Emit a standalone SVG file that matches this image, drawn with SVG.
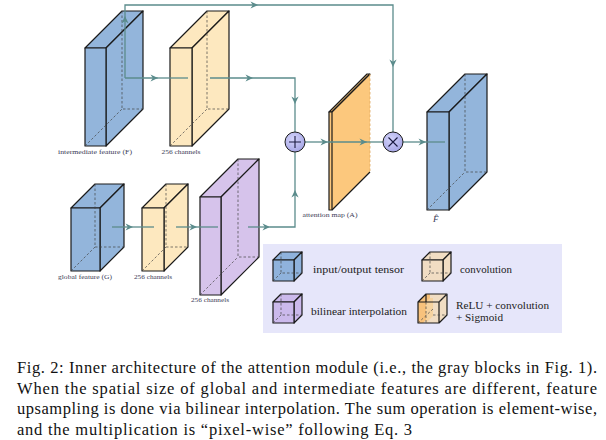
<svg xmlns="http://www.w3.org/2000/svg" width="606" height="440" viewBox="0 0 606 440">
<defs>
<style>
.edge{stroke:#1a1a1a;stroke-width:1.2;stroke-linejoin:round}
.hid{stroke:#444;stroke-width:0.7;stroke-dasharray:2.5,2;fill:none}
.blue{fill:#93b5db}
.yel{fill:#fde8bf}
.pur{fill:#d6c3eb}
.org{fill:#fcc87d}
.conn{stroke:#5b8c8c;stroke-width:1.3;fill:none}
.lbl{font-family:"Liberation Serif","Times New Roman",serif;font-size:7px;fill:#3a3a55;text-anchor:middle}
.leg{font-family:"Liberation Serif","Times New Roman",serif;font-size:11.2px;fill:#222}
.cap{font-family:"Liberation Serif","Times New Roman",serif;font-size:16.5px;fill:#111}
</style>
<marker id="ah" viewBox="-8 -4 9 8" refX="0" refY="0" markerWidth="9" markerHeight="8" markerUnits="userSpaceOnUse" orient="auto">
<path d="M0,0 L-7.5,-3.6 L-5.2,0 L-7.5,3.6 Z" fill="#5b8c8c"/>
</marker>
<radialGradient id="cg" cx="0.4" cy="0.35" r="0.7">
<stop offset="0" stop-color="#d4d4fb"/>
<stop offset="1" stop-color="#a4a4e4"/>
</radialGradient>
</defs>
<rect width="606" height="440" fill="#ffffff"/>

<g id="node-F">
<polygon class="blue edge" points="85,48 122,11 143,11 106,48"/>
<polygon class="blue edge" points="106,48 143,11 143,109 106,146"/>
<rect class="blue edge" x="85" y="48" width="21" height="98"/>
<path class="hid" d="M122,11 V109 H143 M85,146 L122,109"/>
<text class="lbl" x="95" y="154" textLength="74" lengthAdjust="spacingAndGlyphs">intermediate feature (F)</text>
</g>

<g id="node-conv1">
<polygon class="yel edge" points="170,48 207,11 229,11 192,48"/>
<polygon class="yel edge" points="192,48 229,11 229,109 192,146"/>
<rect class="yel edge" x="170" y="48" width="22" height="98"/>
<path class="hid" d="M207,11 V109 H229 M170,146 L207,109"/>
<text class="lbl" x="181" y="154" textLength="39" lengthAdjust="spacingAndGlyphs">256 channels</text>
</g>

<g id="node-G">
<polygon class="blue edge" points="71,208 95,184 124,184 100,208"/>
<polygon class="blue edge" points="100,208 124,184 124,247 100,271"/>
<rect class="blue edge" x="71" y="208" width="29" height="63"/>
<path class="hid" d="M95,184 V247 H124 M71,271 L95,247"/>
<text class="lbl" x="85" y="279" textLength="54" lengthAdjust="spacingAndGlyphs">global feature (G)</text>
</g>

<g id="node-conv2">
<polygon class="yel edge" points="142,208 166,184 188,184 164,208"/>
<polygon class="yel edge" points="164,208 188,184 188,247 164,271"/>
<rect class="yel edge" x="142" y="208" width="22" height="63"/>
<path class="hid" d="M166,184 V247 H188 M142,271 L166,247"/>
<text class="lbl" x="153" y="279" textLength="38" lengthAdjust="spacingAndGlyphs">256 channels</text>
</g>

<g id="node-interp">
<polygon class="pur edge" points="200,197 238,159 259,159 221,197"/>
<polygon class="pur edge" points="221,197 259,159 259,257 221,295"/>
<rect class="pur edge" x="200" y="197" width="21" height="98"/>
<path class="hid" d="M238,159 V257 H259 M200,295 L238,257"/>
<text class="lbl" x="210" y="302" textLength="38" lengthAdjust="spacingAndGlyphs">256 channels</text>
</g>

<g id="node-attn">
<polygon class="org edge" points="329,112 367,74 370,74 332,112"/>
<polygon class="org" points="332,112 370,74 370,172 332,210"/>
<path d="M332,112 L370,74 M370,172 L332,210" class="edge" fill="none"/>
<path d="M370,74 V172" stroke="#e0a860" stroke-width="0.8" stroke-dasharray="2.5,2" fill="none"/>
<rect class="org edge" x="329" y="112" width="3" height="98"/>
<text class="lbl" x="330" y="217" textLength="55" lengthAdjust="spacingAndGlyphs">attention map (A)</text>
</g>

<g id="node-out">
<polygon class="blue edge" points="427,112 465,74 487,74 449,112"/>
<polygon class="blue edge" points="449,112 487,74 487,172 449,210"/>
<rect class="blue edge" x="427" y="112" width="22" height="98"/>
<path class="hid" d="M465,74 V172 H487 M427,210 L465,172"/>
<text x="433" y="222" font-family="Liberation Serif, serif" font-style="italic" font-size="9" fill="#3a3a55">F̂</text>
</g>

<g id="connectors">
<path class="conn" d="M125,78 V16" marker-end="url(#ah)"/>
<path class="conn" d="M125,16 V5 H258" marker-end="url(#ah)"/>
<path class="conn" d="M258,5 H393 V67" marker-end="url(#ah)"/>
<path class="conn" d="M393,67 V132"/>
<path class="conn" d="M125,78 H158" marker-end="url(#ah)"/>
<path class="conn" d="M158,78 H188"/>
<path class="conn" d="M210,78 H253" marker-end="url(#ah)"/>
<path class="conn" d="M253,78 H295 V104" marker-end="url(#ah)"/>
<path class="conn" d="M295,104 V132"/>
<path class="conn" d="M112,227 H133" marker-end="url(#ah)"/>
<path class="conn" d="M133,227 H154"/>
<path class="conn" d="M176,227 H197" marker-end="url(#ah)"/>
<path class="conn" d="M197,227 H218"/>
<path class="conn" d="M248,227 H270" marker-end="url(#ah)"/>
<path class="conn" d="M270,227 H295 V190" marker-end="url(#ah)"/>
<path class="conn" d="M295,190 V152"/>
<path class="conn" d="M305,142 H328" marker-end="url(#ah)"/>
<path class="conn" d="M328,142 H367" marker-end="url(#ah)"/>
<path class="conn" d="M367,142 H383"/>
<path class="conn" d="M403,142 H426" marker-end="url(#ah)"/>
<path class="conn" d="M426,142 H445"/>
</g>

<g id="node-sum">
<circle cx="295" cy="142" r="10" fill="url(#cg)" stroke="#1a1a1a" stroke-width="1"/>
<path d="M289,142 H301 M295,136 V148" stroke="#1a1a40" stroke-width="1.1"/>
</g>
<g id="node-mul">
<circle cx="393" cy="142" r="10" fill="url(#cg)" stroke="#1a1a1a" stroke-width="1"/>
<path d="M388.5,137.5 L397.5,146.5 M397.5,137.5 L388.5,146.5" stroke="#1a1a40" stroke-width="1.1"/>
</g>

<g id="legend">
<rect x="263" y="244" width="299" height="89" fill="#e6e6fa"/>
<g id="leg-tensor">
<polygon class="edge" fill="#8fb2dc" points="273,260 281,252 302,252 294,260"/>
<polygon class="edge" fill="#8fb2dc" points="294,260 302,252 302,273 294,281"/>
<rect class="edge" fill="#8fb2dc" x="273" y="260" width="21" height="21"/>
<path class="hid" d="M281,252 V273 H302 M273,281 L281,273"/>
<text class="leg" x="313" y="273" textLength="91" lengthAdjust="spacingAndGlyphs">input/output tensor</text>
</g>
<g id="leg-conv">
<polygon class="edge" fill="#f1ddc3" points="422,260 430,252 451,252 443,260"/>
<polygon class="edge" fill="#f1ddc3" points="443,260 451,252 451,273 443,281"/>
<rect class="edge" fill="#f1ddc3" x="422" y="260" width="21" height="21"/>
<path class="hid" d="M430,252 V273 H451 M422,281 L430,273"/>
<text class="leg" x="460" y="273" textLength="52" lengthAdjust="spacingAndGlyphs">convolution</text>
</g>
<g id="leg-interp">
<polygon class="edge" fill="#cbb9ec" points="273,302 281,294 302,294 294,302"/>
<polygon class="edge" fill="#cbb9ec" points="294,302 302,294 302,315 294,323"/>
<rect class="edge" fill="#cbb9ec" x="273" y="302" width="21" height="21"/>
<path class="hid" d="M281,294 V315 H302 M273,323 L281,315"/>
<text class="leg" x="311" y="315" textLength="96" lengthAdjust="spacingAndGlyphs">bilinear interpolation</text>
</g>
<g id="leg-relu">
<polygon fill="#f1ddc3" points="418,302 426,294 447,294 447,315 439,323 418,323"/>
<polygon fill="#f8c27c" points="418,302 426,294 430,294 430,316 423,323 418,323"/>
<polygon fill="#f6d3a0" points="426,302 430,298 433,298 433,316 430,319 426,323"/>
<path class="edge" fill="none" d="M418,302 L426,294 H447 V315 L439,323 H418 Z M418,302 H439 V323 M439,302 L447,294 M426,294 V302"/>
<path class="hid" d="M426,302 V323 M439,302 L447,294 M433,315 H447 M418,323 L433,309"/>
<text class="leg" x="456" y="309" textLength="93" lengthAdjust="spacingAndGlyphs">ReLU + convolution</text>
<text class="leg" x="456" y="321" textLength="47" lengthAdjust="spacingAndGlyphs">+ Sigmoid</text>
</g>
</g>

<g id="caption">
<text class="cap" x="17" y="373" textLength="580" lengthAdjust="spacing">Fig. 2: Inner architecture of the attention module (i.e., the gray blocks in Fig. 1).</text>
<text class="cap" x="17" y="394" textLength="580" lengthAdjust="spacing">When the spatial size of global and intermediate features are different, feature</text>
<text class="cap" x="17" y="414" textLength="580" lengthAdjust="spacing">upsampling is done via bilinear interpolation. The sum operation is element-wise,</text>
<text class="cap" x="17" y="435" textLength="395" lengthAdjust="spacing">and the multiplication is “pixel-wise” following Eq. 3</text>
</g>
</svg>
